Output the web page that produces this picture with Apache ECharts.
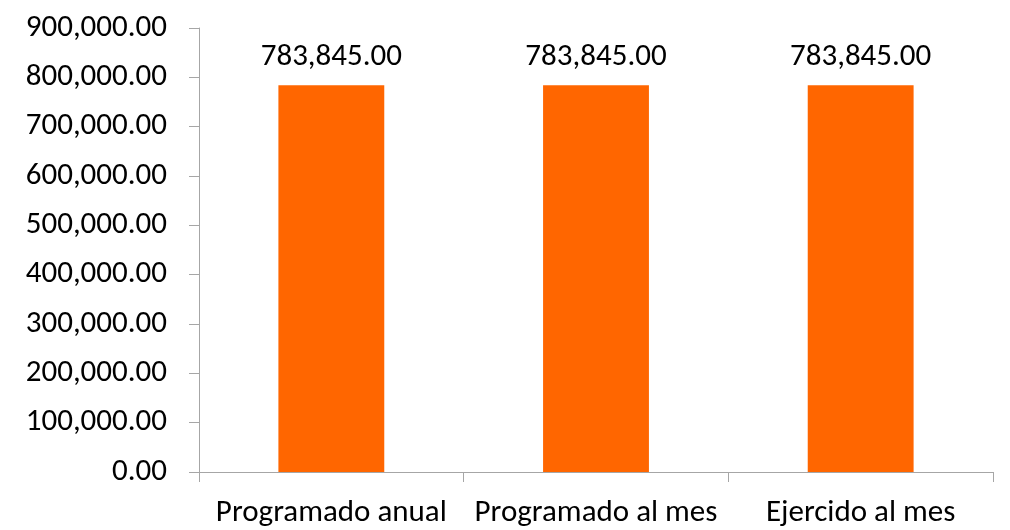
<!DOCTYPE html>
<html>
<head>
<meta charset="utf-8">
<script src="https://cdn.jsdelivr.net/npm/echarts@6/dist/echarts.min.js"></script>
<style>
  html, body { margin: 0; padding: 0; background: #fff; }
  #chart { width: 1010px; height: 530px; }
</style>
</head>
<body>
<div id="chart"></div>
<script>
// datos del gráfico
const categorias = ['Programado anual', 'Programado al mes', 'Ejercido al mes'];
const montos = [783845, 783845, 783845];
const ejeMin = 0;
const ejeMax = 900000;
const ejeIntervalo = 100000;

const fuente = "Carlito, Calibri, 'Open Sans', sans-serif";

// formato 900,000.00
function formato(v) {
  return Number(v).toLocaleString('en-US', { minimumFractionDigits: 2, maximumFractionDigits: 2 });
}

const chart = echarts.init(document.getElementById('chart'), null, { renderer: 'canvas' });

const option = {
  backgroundColor: '#ffffff',
  animation: false,
  textStyle: { fontFamily: fuente },
  grid: {
    left: 199,
    right: 17,
    top: 28,
    bottom: 58
  },
  xAxis: {
    type: 'category',
    data: categorias,
    axisLine: { show: true, lineStyle: { color: '#a6a6a6', width: 1 } },
    axisTick: { show: true, length: 10, lineStyle: { color: '#a6a6a6' } },
    axisLabel: {
      color: '#000',
      fontSize: 31,
      fontFamily: fuente,
      margin: 26,
      interval: 0
    },
    splitLine: { show: false }
  },
  yAxis: {
    type: 'value',
    min: ejeMin,
    max: ejeMax,
    interval: ejeIntervalo,
    axisLine: { show: true, lineStyle: { color: '#a6a6a6', width: 1 } },
    axisTick: { show: true, length: 10, lineStyle: { color: '#a6a6a6' } },
    axisLabel: {
      color: '#000',
      fontSize: 31,
      fontFamily: fuente,
      margin: 32,
      formatter: formato
    },
    splitLine: { show: false }
  },
  series: [
    {
      type: 'bar',
      data: montos,
      barWidth: '40%',
      itemStyle: { color: '#ff6600' },
      label: {
        show: true,
        position: 'top',
        distance: 13,
        color: '#000',
        fontSize: 31,
        fontFamily: fuente,
        formatter: function (p) { return formato(p.value); }
      }
    }
  ]
};

chart.setOption(option);
</script>
</body>
</html>
